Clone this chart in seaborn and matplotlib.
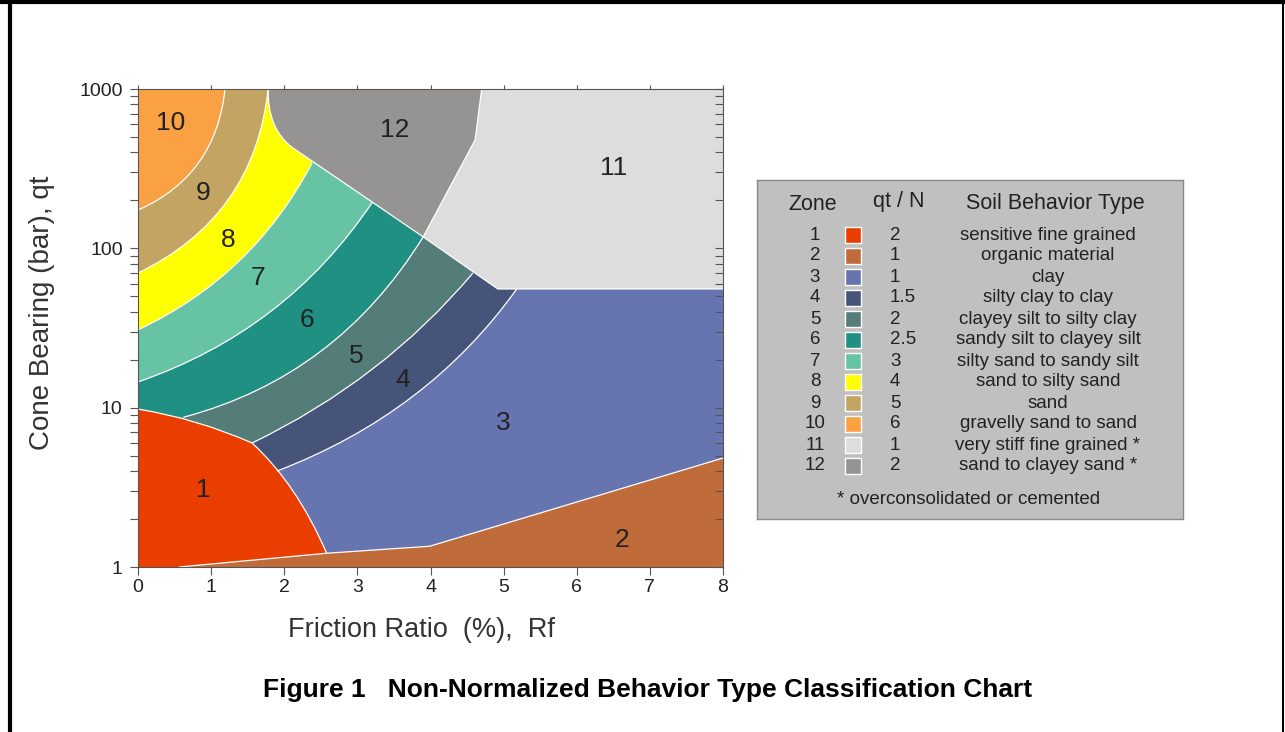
import matplotlib
matplotlib.use('Agg')

import numpy as np
import pandas as pd
import matplotlib.pyplot as plt
from matplotlib.path import Path
from matplotlib.patches import PathPatch
from matplotlib.lines import Line2D
from matplotlib.ticker import NullFormatter
import seaborn as sns

sns.set_theme(style='ticks')
plt.rcParams['font.family'] = ['Liberation Sans', 'DejaVu Sans']

# legend table
zones = [1, 2, 3, 4, 5, 6, 7, 8, 9, 10, 11, 12]
qt_n = ['2', '1', '1', '1.5', '2', '2.5', '3', '4', '5', '6', '1', '2']
soil_types = ['sensitive fine grained', 'organic material', 'clay',
              'silty clay to clay', 'clayey silt to silty clay',
              'sandy silt to clayey silt', 'silty sand to sandy silt',
              'sand to silty sand', 'sand', 'gravelly sand to sand',
              'very stiff fine grained *', 'sand to clayey sand *']
zone_colors = ['#ea3d00', '#c06c3a', '#6675b0', '#46547a', '#547c78', '#1f9082',
               '#66c4a4', '#ffff00', '#c4a462', '#f9a143', '#dddddd', '#959492']

rf_ticks = [0, 1, 2, 3, 4, 5, 6, 7, 8]
qt_ticks = [1, 10, 100, 1000]

# zone boundaries, (Rf %, qt bar): arcs are start, mid, end
arc_10_9 = [(0.0, 174), (0.83, 345), (1.19, 1000)]
arc_9_8 = [(0.0, 70), (1.24, 204), (1.78, 1000)]
arc_8_7 = [(0.0, 30.8), (1.38, 83), (2.38, 343)]
arc_7_6 = [(0.0, 14.5), (1.81, 40), (3.20, 193)]
arc_6_5 = [(0.62, 8.7), (2.49, 22.4), (3.90, 118)]
arc_5_4 = [(1.56, 6.0), (3.21, 17.5), (4.58, 70)]
arc_4_3 = [(1.90, 4.0), (3.75, 11.7), (5.18, 55.6)]
zone1_top = [(0.0, 9.8), (0.79, 8.1), (1.56, 6.0)]
zone1_side = [(1.56, 6.0), (2.12, 3.0), (2.58, 1.22)]
zone2_rf = [0.56, 2.58, 3.99, 8.0]
zone2_qt = [1.0, 1.22, 1.35, 4.83]
zone12_curve = [(1.78, 1000), (1.86, 603), (2.12, 426)]
zone12_rf = [2.12, 3.90, 4.61, 4.70]
zone12_qt = [426, 118, 479, 1000]
zone11_rf = [3.90, 4.92, 8.0]
zone11_qt = [118, 55.6, 55.6]

label_rf = [0.89, 6.62, 4.99, 3.62, 2.99, 2.31, 1.64, 1.23, 0.89, 0.44, 6.50, 3.51]
label_qt = [3.04, 1.48, 8.0, 14.9, 21.1, 35.5, 65, 113, 222, 612, 319, 553]

RF0, RF1 = rf_ticks[0], rf_ticks[-1]
QT0, QT1 = qt_ticks[0], qt_ticks[-1]


def ctrl(p0, pm, p1):
    # quadratic control point so the curve passes through pm (log qt space)
    cx = 2 * pm[0] - (p0[0] + p1[0]) / 2
    cy = 10 ** (2 * np.log10(pm[1]) - (np.log10(p0[1]) + np.log10(p1[1])) / 2)
    return (cx, cy)


def make_path(start, steps, close=False):
    verts, codes = [tuple(start)], [Path.MOVETO]
    for step in steps:
        if len(step) == 3:
            _, mid, end = step
            verts += [ctrl(verts[-1], mid, end), tuple(end)]
            codes += [Path.CURVE3, Path.CURVE3]
        else:
            verts.append(tuple(step))
            codes.append(Path.LINETO)
    if close:
        verts.append(tuple(start))
        codes.append(Path.CLOSEPOLY)
    return Path(verts, codes)


def arc_steps(arc):
    return [('q', arc[1], arc[2])]


fig = plt.figure(figsize=(12.85, 7.32), dpi=100)
ax = fig.add_axes([138 / 1285, 1 - 567 / 732, 585 / 1285, 478 / 732])
ax.set_yscale('log')
ax.set_xlim(RF0, RF1)
ax.set_ylim(QT0, QT1)

c = dict(zip(zones, zone_colors))
fills = []
# zone 3 covers everything underneath
fills.append((3, make_path((RF0, QT0), [(RF1, QT0), (RF1, QT1), (RF0, QT1)], True)))
# arc zones, each reaching up-left from its outer boundary
for z, arc in [(4, arc_4_3), (5, arc_5_4), (6, arc_6_5), (7, arc_7_6),
               (8, arc_8_7), (9, arc_9_8), (10, arc_10_9)]:
    steps = arc_steps(arc) + [(arc[2][0], QT1), (RF0, QT1), (RF0, QT0)]
    fills.append((z, make_path(arc[0], steps, True)))
z12 = make_path(zone12_curve[0], arc_steps(zone12_curve) + list(zip(zone12_rf[1:], zone12_qt[1:])), True)
fills.append((12, z12))
z11 = make_path((zone12_rf[1], zone12_qt[1]),
                list(zip(zone12_rf[2:], zone12_qt[2:])) + [(RF1, QT1)]
                + list(zip(zone11_rf[::-1], zone11_qt[::-1])), True)
fills.append((11, z11))
z2 = make_path((zone2_rf[0], zone2_qt[0]), list(zip(zone2_rf[1:], zone2_qt[1:])) + [(RF1, QT0)], True)
fills.append((2, z2))
z1 = make_path((RF0, QT0), [zone1_top[0]] + arc_steps(zone1_top) + arc_steps(zone1_side)
               + [(zone2_rf[0], zone2_qt[0])], True)
fills.append((1, z1))

for z, p in fills:
    ax.add_patch(PathPatch(p, facecolor=c[z], edgecolor='none', lw=0))

# white boundary lines
lines = [make_path(a[0], arc_steps(a)) for a in
         [arc_10_9, arc_9_8, arc_8_7, arc_7_6, arc_6_5, arc_5_4, arc_4_3]]
lines.append(make_path(zone1_top[0], arc_steps(zone1_top) + arc_steps(zone1_side)))
lines.append(make_path((zone2_rf[0], zone2_qt[0]), list(zip(zone2_rf[1:], zone2_qt[1:]))))
lines.append(make_path(zone12_curve[0], arc_steps(zone12_curve) + list(zip(zone12_rf[1:], zone12_qt[1:]))))
lines.append(make_path((zone11_rf[0], zone11_qt[0]), list(zip(zone11_rf[1:], zone11_qt[1:]))))
for p in lines:
    ax.add_patch(PathPatch(p, facecolor='none', edgecolor='white', lw=0.9))

for z, x, y in zip(zones, label_rf, label_qt):
    ax.text(x, y, str(z), ha='center', va='center', fontsize=19, color='#222222')

# axes, ticks
ax.set_xticks(rf_ticks)
ax.set_yticks(qt_ticks)
ax.set_yticklabels([str(v) for v in qt_ticks])
ax.yaxis.set_minor_formatter(NullFormatter())
ax.tick_params(which='both', direction='out', length=6, width=0.8, color='#555555',
               labelcolor='#222222', labelsize=14, pad=3)
ax.tick_params(axis='y', pad=5)
ax.tick_params(axis='x', top=True)
for t in ax.xaxis.get_major_ticks():
    t.tick2line.set_markersize(3)
for s in ax.spines.values():
    s.set_color('#555555')
    s.set_linewidth(0.8)
ax2 = ax.twinx()
ax2.set_yscale('log')
ax2.set_ylim(QT0, QT1)
ax2.set_yticks(qt_ticks)
ax2.yaxis.set_minor_formatter(NullFormatter())
ax2.tick_params(which='both', direction='in', length=6, width=0.8, color='#555555',
                labelright=False)
for s in ax2.spines.values():
    s.set_visible(False)

fig.text(42 / 1285, 1 - 313 / 732, 'Cone Bearing (bar), qt', rotation=90,
         ha='center', va='center', fontsize=20, color='#333333')
fig.text(422 / 1285, 1 - 630 / 732, 'Friction Ratio  (%),  Rf',
         ha='center', va='center', fontsize=19.5, color='#333333')
fig.text(648 / 1285, 1 - 690 / 732, 'Figure 1   Non-Normalized Behavior Type Classification Chart',
         ha='center', va='center', fontsize=19, fontweight='bold', color='black')

# legend panel
lax = fig.add_axes([757 / 1285, 1 - 519 / 732, 426 / 1285, 339 / 732])
lax.set_xlim(757, 1183)
lax.set_ylim(519, 180)
lax.set_facecolor('#c0c0c0')
for s in lax.spines.values():
    s.set_color('#8a8a8a')
    s.set_linewidth(1)
row_y = 235 + 21 * np.arange(len(zones))
leg = pd.DataFrame({'x': 853, 'y': row_y, 'zone': [str(z) for z in zones]})
sns.scatterplot(data=leg, x='x', y='y', hue='zone', marker='s', s=125,
                palette=dict(zip(leg['zone'], zone_colors)), edgecolor='white',
                linewidth=1, legend=False, ax=lax)
lax.set_xticks([])
lax.set_yticks([])
lax.set_xlabel('')
lax.set_ylabel('')
tc = '#222222'
lax.text(813, 204, 'Zone', ha='center', va='center', fontsize=15.5, color=tc)
lax.text(899, 202, 'qt / N', ha='center', va='center', fontsize=15.5, color=tc)
lax.text(1055, 204, 'Soil Behavior Type', ha='center', va='center', fontsize=15.5, color=tc)
for z, q, st, y in zip(zones, qt_n, soil_types, row_y):
    lax.text(815, y, str(z), ha='center', va='center', fontsize=13.5, color=tc)
    lax.text(890, y, q, ha='left', va='center', fontsize=13.5, color=tc)
    lax.text(1048, y, st, ha='center', va='center', fontsize=13.5, color=tc)
lax.text(969, 500, '* overconsolidated or cemented', ha='center', va='center',
         fontsize=13.5, color=tc)

# page frame
fig.add_artist(Line2D([0, 1], [1 - 2 / 732] * 2, color='black', lw=3))
fig.add_artist(Line2D([10 / 1285] * 2, [0, 1], color='black', lw=3))
fig.add_artist(Line2D([1283 / 1285] * 2, [0, 1], color='black', lw=1.5))

fig.savefig('out.png', dpi=100)
